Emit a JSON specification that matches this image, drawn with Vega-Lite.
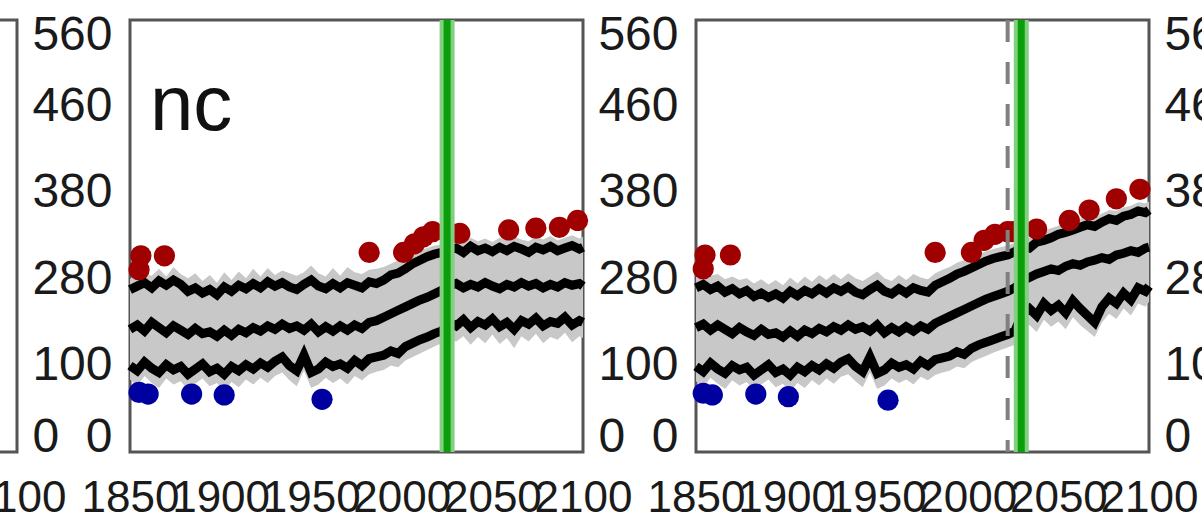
{
  "$schema": "https://vega.github.io/schema/vega-lite/v6.json",
  "background": "white",
  "autosize": {"type": "pad"},
  "padding": {"left": -487, "top": 9, "right": 0, "bottom": 0},
  "config": {
    "view": {"stroke": "#555555", "strokeWidth": 3},
    "axis": {"grid": false, "domain": false, "ticks": false}
  },
  "bounds": "flush",
  "spacing": 113,
  "datasets": {
    "B": [
      {"year":1850,"lo":84,"lower":100,"mid":142,"upper":188,"hi":200},
      {"year":1854,"lo":76,"lower":94,"mid":147,"upper":192,"hi":210},
      {"year":1858,"lo":88,"lower":104,"mid":140,"upper":196,"hi":206},
      {"year":1862,"lo":80,"lower":97,"mid":150,"upper":190,"hi":204},
      {"year":1866,"lo":74,"lower":92,"mid":144,"upper":198,"hi":212},
      {"year":1870,"lo":85,"lower":101,"mid":138,"upper":193,"hi":203},
      {"year":1874,"lo":78,"lower":95,"mid":146,"upper":199,"hi":214},
      {"year":1878,"lo":82,"lower":99,"mid":141,"upper":194,"hi":206},
      {"year":1882,"lo":72,"lower":90,"mid":136,"upper":186,"hi":201},
      {"year":1886,"lo":79,"lower":96,"mid":143,"upper":190,"hi":207},
      {"year":1890,"lo":85,"lower":102,"mid":137,"upper":184,"hi":198},
      {"year":1894,"lo":76,"lower":93,"mid":139,"upper":188,"hi":205},
      {"year":1898,"lo":80,"lower":97,"mid":134,"upper":182,"hi":196},
      {"year":1902,"lo":70,"lower":90,"mid":141,"upper":191,"hi":208},
      {"year":1906,"lo":81,"lower":99,"mid":135,"upper":186,"hi":199},
      {"year":1910,"lo":75,"lower":94,"mid":142,"upper":193,"hi":209},
      {"year":1914,"lo":84,"lower":101,"mid":138,"upper":189,"hi":201},
      {"year":1918,"lo":78,"lower":96,"mid":144,"upper":195,"hi":212},
      {"year":1922,"lo":86,"lower":103,"mid":140,"upper":190,"hi":203},
      {"year":1926,"lo":80,"lower":98,"mid":146,"upper":197,"hi":213},
      {"year":1930,"lo":88,"lower":105,"mid":142,"upper":192,"hi":205},
      {"year":1934,"lo":92,"lower":110,"mid":148,"upper":196,"hi":210},
      {"year":1938,"lo":83,"lower":100,"mid":143,"upper":191,"hi":207},
      {"year":1942,"lo":76,"lower":94,"mid":146,"upper":188,"hi":204},
      {"year":1946,"lo":94,"lower":112,"mid":141,"upper":194,"hi":208},
      {"year":1950,"lo":74,"lower":92,"mid":148,"upper":199,"hi":216},
      {"year":1954,"lo":78,"lower":96,"mid":139,"upper":192,"hi":207},
      {"year":1958,"lo":86,"lower":104,"mid":145,"upper":189,"hi":203},
      {"year":1962,"lo":80,"lower":99,"mid":140,"upper":195,"hi":213},
      {"year":1966,"lo":85,"lower":102,"mid":146,"upper":190,"hi":204},
      {"year":1970,"lo":78,"lower":97,"mid":141,"upper":196,"hi":214},
      {"year":1974,"lo":88,"lower":106,"mid":147,"upper":193,"hi":208},
      {"year":1978,"lo":83,"lower":100,"mid":143,"upper":190,"hi":206},
      {"year":1982,"lo":90,"lower":108,"mid":150,"upper":197,"hi":211},
      {"year":1986,"lo":93,"lower":110,"mid":152,"upper":195,"hi":212},
      {"year":1990,"lo":95,"lower":112,"mid":156,"upper":199,"hi":214},
      {"year":1994,"lo":100,"lower":117,"mid":160,"upper":205,"hi":218},
      {"year":1998,"lo":98,"lower":114,"mid":164,"upper":207,"hi":222},
      {"year":2002,"lo":106,"lower":122,"mid":168,"upper":212,"hi":225},
      {"year":2006,"lo":110,"lower":126,"mid":172,"upper":218,"hi":230},
      {"year":2010,"lo":114,"lower":130,"mid":176,"upper":222,"hi":233},
      {"year":2014,"lo":118,"lower":133,"mid":179,"upper":226,"hi":236},
      {"year":2018,"lo":122,"lower":137,"mid":183,"upper":229,"hi":239},
      {"year":2022,"lo":126,"lower":140,"mid":187,"upper":231,"hi":240},
      {"year":2026,"lo":130,"lower":150,"mid":192,"upper":234,"hi":244},
      {"year":2030,"lo":128,"lower":146,"mid":195,"upper":236,"hi":246},
      {"year":2034,"lo":134,"lower":153,"mid":190,"upper":231,"hi":243},
      {"year":2038,"lo":124,"lower":144,"mid":194,"upper":238,"hi":248},
      {"year":2042,"lo":133,"lower":151,"mid":191,"upper":233,"hi":244},
      {"year":2046,"lo":126,"lower":147,"mid":196,"upper":236,"hi":247},
      {"year":2050,"lo":136,"lower":154,"mid":192,"upper":232,"hi":243},
      {"year":2054,"lo":125,"lower":145,"mid":189,"upper":237,"hi":248},
      {"year":2058,"lo":132,"lower":150,"mid":194,"upper":233,"hi":245},
      {"year":2062,"lo":120,"lower":142,"mid":191,"upper":238,"hi":249},
      {"year":2066,"lo":134,"lower":152,"mid":196,"upper":235,"hi":246},
      {"year":2070,"lo":128,"lower":148,"mid":192,"upper":231,"hi":244},
      {"year":2074,"lo":137,"lower":155,"mid":195,"upper":237,"hi":249},
      {"year":2078,"lo":126,"lower":146,"mid":190,"upper":234,"hi":246},
      {"year":2082,"lo":133,"lower":151,"mid":194,"upper":238,"hi":250},
      {"year":2086,"lo":130,"lower":149,"mid":191,"upper":233,"hi":245},
      {"year":2090,"lo":138,"lower":156,"mid":196,"upper":236,"hi":248},
      {"year":2094,"lo":127,"lower":147,"mid":193,"upper":239,"hi":251},
      {"year":2098,"lo":134,"lower":152,"mid":195,"upper":235,"hi":247},
      {"year":2100,"lo":132,"lower":150,"mid":192,"upper":237,"hi":249}
    ],
    "C": [
      {"year":1850,"lo":82,"lower":99,"mid":144,"upper":190,"hi":203},
      {"year":1854,"lo":75,"lower":93,"mid":148,"upper":194,"hi":209},
      {"year":1858,"lo":86,"lower":103,"mid":141,"upper":188,"hi":204},
      {"year":1862,"lo":79,"lower":96,"mid":147,"upper":192,"hi":206},
      {"year":1866,"lo":73,"lower":91,"mid":142,"upper":185,"hi":200},
      {"year":1870,"lo":83,"lower":100,"mid":137,"upper":189,"hi":203},
      {"year":1874,"lo":77,"lower":95,"mid":144,"upper":183,"hi":199},
      {"year":1878,"lo":81,"lower":98,"mid":139,"upper":187,"hi":201},
      {"year":1882,"lo":71,"lower":89,"mid":135,"upper":180,"hi":195},
      {"year":1886,"lo":78,"lower":95,"mid":142,"upper":184,"hi":200},
      {"year":1890,"lo":84,"lower":101,"mid":136,"upper":179,"hi":194},
      {"year":1894,"lo":75,"lower":92,"mid":138,"upper":183,"hi":199},
      {"year":1898,"lo":79,"lower":96,"mid":133,"upper":178,"hi":193},
      {"year":1902,"lo":70,"lower":89,"mid":140,"upper":186,"hi":202},
      {"year":1906,"lo":80,"lower":98,"mid":134,"upper":181,"hi":195},
      {"year":1910,"lo":74,"lower":93,"mid":141,"upper":187,"hi":203},
      {"year":1914,"lo":83,"lower":100,"mid":137,"upper":183,"hi":197},
      {"year":1918,"lo":77,"lower":95,"mid":143,"upper":189,"hi":205},
      {"year":1922,"lo":85,"lower":102,"mid":139,"upper":184,"hi":199},
      {"year":1926,"lo":79,"lower":97,"mid":145,"upper":190,"hi":206},
      {"year":1930,"lo":87,"lower":104,"mid":141,"upper":186,"hi":200},
      {"year":1934,"lo":90,"lower":108,"mid":147,"upper":191,"hi":207},
      {"year":1938,"lo":82,"lower":99,"mid":142,"upper":185,"hi":201},
      {"year":1942,"lo":75,"lower":93,"mid":145,"upper":182,"hi":198},
      {"year":1946,"lo":92,"lower":110,"mid":140,"upper":188,"hi":203},
      {"year":1950,"lo":73,"lower":91,"mid":147,"upper":193,"hi":209},
      {"year":1954,"lo":77,"lower":95,"mid":138,"upper":186,"hi":201},
      {"year":1958,"lo":85,"lower":103,"mid":144,"upper":183,"hi":198},
      {"year":1962,"lo":80,"lower":98,"mid":139,"upper":189,"hi":205},
      {"year":1966,"lo":84,"lower":101,"mid":145,"upper":184,"hi":199},
      {"year":1970,"lo":78,"lower":96,"mid":140,"upper":190,"hi":206},
      {"year":1974,"lo":87,"lower":105,"mid":146,"upper":187,"hi":202},
      {"year":1978,"lo":83,"lower":100,"mid":142,"upper":185,"hi":200},
      {"year":1982,"lo":89,"lower":107,"mid":149,"upper":193,"hi":207},
      {"year":1986,"lo":92,"lower":109,"mid":153,"upper":197,"hi":211},
      {"year":1990,"lo":94,"lower":111,"mid":157,"upper":201,"hi":214},
      {"year":1994,"lo":99,"lower":116,"mid":161,"upper":206,"hi":219},
      {"year":1998,"lo":97,"lower":113,"mid":165,"upper":209,"hi":222},
      {"year":2002,"lo":104,"lower":120,"mid":169,"upper":213,"hi":226},
      {"year":2006,"lo":108,"lower":124,"mid":173,"upper":217,"hi":229},
      {"year":2010,"lo":111,"lower":127,"mid":177,"upper":221,"hi":232},
      {"year":2014,"lo":115,"lower":130,"mid":180,"upper":224,"hi":235},
      {"year":2018,"lo":118,"lower":133,"mid":183,"upper":226,"hi":237},
      {"year":2022,"lo":121,"lower":136,"mid":186,"upper":228,"hi":239},
      {"year":2026,"lo":124,"lower":140,"mid":190,"upper":232,"hi":242},
      {"year":2030,"lo":142,"lower":160,"mid":198,"upper":238,"hi":249},
      {"year":2034,"lo":147,"lower":166,"mid":202,"upper":236,"hi":248},
      {"year":2038,"lo":139,"lower":158,"mid":206,"upper":243,"hi":254},
      {"year":2042,"lo":153,"lower":172,"mid":209,"upper":245,"hi":256},
      {"year":2046,"lo":145,"lower":164,"mid":212,"upper":248,"hi":259},
      {"year":2050,"lo":151,"lower":170,"mid":210,"upper":252,"hi":262},
      {"year":2054,"lo":142,"lower":161,"mid":215,"upper":254,"hi":265},
      {"year":2058,"lo":156,"lower":175,"mid":218,"upper":257,"hi":267},
      {"year":2062,"lo":147,"lower":166,"mid":216,"upper":260,"hi":270},
      {"year":2066,"lo":140,"lower":158,"mid":220,"upper":263,"hi":272},
      {"year":2070,"lo":133,"lower":150,"mid":222,"upper":261,"hi":272},
      {"year":2074,"lo":150,"lower":168,"mid":225,"upper":266,"hi":276},
      {"year":2078,"lo":160,"lower":178,"mid":223,"upper":270,"hi":280},
      {"year":2082,"lo":154,"lower":172,"mid":228,"upper":268,"hi":279},
      {"year":2086,"lo":166,"lower":184,"mid":230,"upper":273,"hi":283},
      {"year":2090,"lo":158,"lower":176,"mid":233,"upper":275,"hi":285},
      {"year":2094,"lo":172,"lower":190,"mid":231,"upper":279,"hi":289},
      {"year":2098,"lo":168,"lower":186,"mid":236,"upper":277,"hi":288},
      {"year":2100,"lo":174,"lower":192,"mid":237,"upper":280,"hi":290}
    ],
    "dB": [
      {"year":1855,"v":211,"kind":"hi"},{"year":1856,"v":227,"kind":"hi"},{"year":1869,"v":227,"kind":"hi"},
      {"year":1982,"v":231,"kind":"hi"},{"year":2001,"v":231,"kind":"hi"},{"year":2007,"v":241,"kind":"hi"},
      {"year":2012,"v":249,"kind":"hi"},{"year":2017,"v":255,"kind":"hi"},{"year":2032,"v":253,"kind":"hi"},
      {"year":2059,"v":257,"kind":"hi"},{"year":2074,"v":259,"kind":"hi"},{"year":2087,"v":260,"kind":"hi"},
      {"year":2097,"v":268,"kind":"hi"},
      {"year":1855,"v":69,"kind":"lo"},{"year":1860,"v":67,"kind":"lo"},{"year":1884,"v":67,"kind":"lo"},
      {"year":1902,"v":66,"kind":"lo"},{"year":1956,"v":61,"kind":"lo"}
    ],
    "dC": [
      {"year":1854,"v":212,"kind":"hi"},{"year":1855,"v":228,"kind":"hi"},{"year":1869,"v":228,"kind":"hi"},
      {"year":1982,"v":231,"kind":"hi"},{"year":2002,"v":231,"kind":"hi"},{"year":2009,"v":245,"kind":"hi"},
      {"year":2015,"v":252,"kind":"hi"},{"year":2022,"v":255,"kind":"hi"},{"year":2025,"v":255,"kind":"hi"},
      {"year":2038,"v":258,"kind":"hi"},{"year":2056,"v":268,"kind":"hi"},{"year":2067,"v":280,"kind":"hi"},
      {"year":2082,"v":293,"kind":"hi"},{"year":2095,"v":304,"kind":"hi"},
      {"year":1854,"v":68,"kind":"lo"},{"year":1859,"v":66,"kind":"lo"},{"year":1883,"v":67,"kind":"lo"},
      {"year":1901,"v":64,"kind":"lo"},{"year":1956,"v":60,"kind":"lo"}
    ],
    "gB": [{"year":2025}],
    "gC": [{"year":2029.5}],
    "dashC": [{"year":2022}],
    "tB": [{"year":1861,"v":373,"t":"nc"}],
    "edge": [{"year":2100,"v":0}]
  },
  "hconcat": [
    {
      "width": 453, "height": 432,
      "data": {"name": "edge"},
      "mark": {"type": "point", "opacity": 0},
      "encoding": {
        "x": {"field": "year", "type": "quantitative", "title": null, "scale": {"domain": [1850, 2100]},
              "axis": {"values": [1850,1900,1950,2000,2050,2100], "format": "d", "labelFontSize": 44, "labelFont": "Liberation Sans", "labelColor": "#1a1a1a", "labelPadding": 24, "labelFlush": false, "labelOverlap": false}},
        "y": {"field": "v", "type": "quantitative", "title": null, "scale": {"domain": [0, 500]}, "axis": null}
      }
    },
    {
      "width": 453, "height": 432,
      "encoding": {
        "x": {"field": "year", "type": "quantitative", "title": null, "scale": {"domain": [1850, 2100]},
              "axis": {"values": [1850,1900,1950,2000,2050,2100], "format": "d", "labelFontSize": 44, "labelFont": "Liberation Sans", "labelColor": "#1a1a1a", "labelPadding": 24, "labelFlush": false, "labelOverlap": false}}
      },
      "layer": [
        {"data": {"name": "B"}, "mark": {"type": "area", "color": "#c8c8c8"},
         "encoding": {"y": {"field": "lo", "type": "quantitative", "title": null, "scale": {"domain": [0, 500]},
           "axis": {"values": [0,100,200,300,400,500], "labelExpr": "datum.value == 500 ? '560' : datum.value == 400 ? '460' : datum.value == 300 ? '380' : datum.value == 200 ? '280' : datum.value == 100 ? '100' : '0\u00a0\u00a00'", "labelFontSize": 48, "labelFont": "Liberation Sans", "labelColor": "#1a1a1a", "labelPadding": 18, "labelFlush": true, "labelFlushOffset": 9, "labelOverlap": false}},
           "y2": {"field": "hi"}}},
        {"data": {"name": "B"}, "mark": {"type": "line", "color": "#000000", "strokeWidth": 9},
         "encoding": {"y": {"field": "lower", "type": "quantitative", "title": null, "scale": {"domain": [0, 500]},
           "axis": {"values": [0,100,200,300,400,500], "labelExpr": "datum.value == 500 ? '560' : datum.value == 400 ? '460' : datum.value == 300 ? '380' : datum.value == 200 ? '280' : datum.value == 100 ? '100' : '0\u00a0\u00a00'", "labelFontSize": 48, "labelFont": "Liberation Sans", "labelColor": "#1a1a1a", "labelPadding": 18, "labelFlush": true, "labelFlushOffset": 9, "labelOverlap": false}}}},
        {"data": {"name": "B"}, "mark": {"type": "line", "color": "#000000", "strokeWidth": 9},
         "encoding": {"y": {"field": "mid", "type": "quantitative", "title": null, "scale": {"domain": [0, 500]},
           "axis": {"values": [0,100,200,300,400,500], "labelExpr": "datum.value == 500 ? '560' : datum.value == 400 ? '460' : datum.value == 300 ? '380' : datum.value == 200 ? '280' : datum.value == 100 ? '100' : '0\u00a0\u00a00'", "labelFontSize": 48, "labelFont": "Liberation Sans", "labelColor": "#1a1a1a", "labelPadding": 18, "labelFlush": true, "labelFlushOffset": 9, "labelOverlap": false}}}},
        {"data": {"name": "B"}, "mark": {"type": "line", "color": "#000000", "strokeWidth": 9},
         "encoding": {"y": {"field": "upper", "type": "quantitative", "title": null, "scale": {"domain": [0, 500]},
           "axis": {"values": [0,100,200,300,400,500], "labelExpr": "datum.value == 500 ? '560' : datum.value == 400 ? '460' : datum.value == 300 ? '380' : datum.value == 200 ? '280' : datum.value == 100 ? '100' : '0\u00a0\u00a00'", "labelFontSize": 48, "labelFont": "Liberation Sans", "labelColor": "#1a1a1a", "labelPadding": 18, "labelFlush": true, "labelFlushOffset": 9, "labelOverlap": false}}}},
        {"data": {"name": "dB"}, "mark": {"type": "circle", "size": 450, "opacity": 1},
         "encoding": {"y": {"field": "v", "type": "quantitative", "title": null, "scale": {"domain": [0, 500]},
           "axis": {"values": [0,100,200,300,400,500], "labelExpr": "datum.value == 500 ? '560' : datum.value == 400 ? '460' : datum.value == 300 ? '380' : datum.value == 200 ? '280' : datum.value == 100 ? '100' : '0\u00a0\u00a00'", "labelFontSize": 48, "labelFont": "Liberation Sans", "labelColor": "#1a1a1a", "labelPadding": 18, "labelFlush": true, "labelFlushOffset": 9, "labelOverlap": false}},
           "color": {"field": "kind", "type": "nominal", "scale": {"domain": ["hi", "lo"], "range": ["#a00000", "#0000a0"]}, "legend": null}}},
        {"data": {"name": "tB"}, "mark": {"type": "text", "align": "left", "baseline": "alphabetic", "fontSize": 78, "font": "Liberation Sans", "color": "#111111"},
         "encoding": {"y": {"field": "v", "type": "quantitative", "title": null, "scale": {"domain": [0, 500]},
           "axis": {"values": [0,100,200,300,400,500], "labelExpr": "datum.value == 500 ? '560' : datum.value == 400 ? '460' : datum.value == 300 ? '380' : datum.value == 200 ? '280' : datum.value == 100 ? '100' : '0\u00a0\u00a00'", "labelFontSize": 48, "labelFont": "Liberation Sans", "labelColor": "#1a1a1a", "labelPadding": 18, "labelFlush": true, "labelFlushOffset": 9, "labelOverlap": false}},
           "text": {"field": "t"}}},
        {"data": {"name": "gB"}, "mark": {"type": "rule", "color": "#80d080", "strokeWidth": 15}, "encoding": {}},
        {"data": {"name": "gB"}, "mark": {"type": "rule", "color": "#0a9e0a", "strokeWidth": 7}, "encoding": {}}
      ]
    },
    {
      "width": 453, "height": 432,
      "encoding": {
        "x": {"field": "year", "type": "quantitative", "title": null, "scale": {"domain": [1850, 2100]},
              "axis": {"values": [1850,1900,1950,2000,2050,2100], "format": "d", "labelFontSize": 44, "labelFont": "Liberation Sans", "labelColor": "#1a1a1a", "labelPadding": 24, "labelFlush": false, "labelOverlap": false}}
      },
      "layer": [
        {"data": {"name": "C"}, "mark": {"type": "area", "color": "#c8c8c8"},
         "encoding": {"y": {"field": "lo", "type": "quantitative", "title": null, "scale": {"domain": [0, 500]},
           "axis": {"values": [0,100,200,300,400,500], "labelExpr": "datum.value == 500 ? '560' : datum.value == 400 ? '460' : datum.value == 300 ? '380' : datum.value == 200 ? '280' : datum.value == 100 ? '100' : '0\u00a0\u00a00'", "labelFontSize": 48, "labelFont": "Liberation Sans", "labelColor": "#1a1a1a", "labelPadding": 18, "labelFlush": true, "labelFlushOffset": 9, "labelOverlap": false}},
           "y2": {"field": "hi"}}},
        {"data": {"name": "C"}, "mark": {"type": "line", "color": "#000000", "strokeWidth": 9},
         "encoding": {"y": {"field": "lower", "type": "quantitative", "title": null, "scale": {"domain": [0, 500]},
           "axis": {"values": [0,100,200,300,400,500], "labelExpr": "datum.value == 500 ? '560' : datum.value == 400 ? '460' : datum.value == 300 ? '380' : datum.value == 200 ? '280' : datum.value == 100 ? '100' : '0\u00a0\u00a00'", "labelFontSize": 48, "labelFont": "Liberation Sans", "labelColor": "#1a1a1a", "labelPadding": 18, "labelFlush": true, "labelFlushOffset": 9, "labelOverlap": false}}}},
        {"data": {"name": "C"}, "mark": {"type": "line", "color": "#000000", "strokeWidth": 9},
         "encoding": {"y": {"field": "mid", "type": "quantitative", "title": null, "scale": {"domain": [0, 500]},
           "axis": {"values": [0,100,200,300,400,500], "labelExpr": "datum.value == 500 ? '560' : datum.value == 400 ? '460' : datum.value == 300 ? '380' : datum.value == 200 ? '280' : datum.value == 100 ? '100' : '0\u00a0\u00a00'", "labelFontSize": 48, "labelFont": "Liberation Sans", "labelColor": "#1a1a1a", "labelPadding": 18, "labelFlush": true, "labelFlushOffset": 9, "labelOverlap": false}}}},
        {"data": {"name": "C"}, "mark": {"type": "line", "color": "#000000", "strokeWidth": 9},
         "encoding": {"y": {"field": "upper", "type": "quantitative", "title": null, "scale": {"domain": [0, 500]},
           "axis": {"values": [0,100,200,300,400,500], "labelExpr": "datum.value == 500 ? '560' : datum.value == 400 ? '460' : datum.value == 300 ? '380' : datum.value == 200 ? '280' : datum.value == 100 ? '100' : '0\u00a0\u00a00'", "labelFontSize": 48, "labelFont": "Liberation Sans", "labelColor": "#1a1a1a", "labelPadding": 18, "labelFlush": true, "labelFlushOffset": 9, "labelOverlap": false}}}},
        {"data": {"name": "dC"}, "mark": {"type": "circle", "size": 450, "opacity": 1},
         "encoding": {"y": {"field": "v", "type": "quantitative", "title": null, "scale": {"domain": [0, 500]},
           "axis": {"values": [0,100,200,300,400,500], "labelExpr": "datum.value == 500 ? '560' : datum.value == 400 ? '460' : datum.value == 300 ? '380' : datum.value == 200 ? '280' : datum.value == 100 ? '100' : '0\u00a0\u00a00'", "labelFontSize": 48, "labelFont": "Liberation Sans", "labelColor": "#1a1a1a", "labelPadding": 18, "labelFlush": true, "labelFlushOffset": 9, "labelOverlap": false}},
           "color": {"field": "kind", "type": "nominal", "scale": {"domain": ["hi", "lo"], "range": ["#a00000", "#0000a0"]}, "legend": null}}},
        {"data": {"name": "dashC"}, "mark": {"type": "rule", "color": "#808080", "strokeWidth": 4, "strokeDash": [22, 20]}, "encoding": {}},
        {"data": {"name": "gC"}, "mark": {"type": "rule", "color": "#80d080", "strokeWidth": 15}, "encoding": {}},
        {"data": {"name": "gC"}, "mark": {"type": "rule", "color": "#0a9e0a", "strokeWidth": 7}, "encoding": {}}
      ]
    },
    {
      "width": 453, "height": 432,
      "data": {"name": "edge"},
      "mark": {"type": "point", "opacity": 0},
      "encoding": {
        "x": {"field": "year", "type": "quantitative", "title": null, "scale": {"domain": [1850, 2100]},
              "axis": {"values": [1850,1900,1950,2000,2050,2100], "format": "d", "labelFontSize": 44, "labelFont": "Liberation Sans", "labelColor": "#1a1a1a", "labelPadding": 24, "labelFlush": false, "labelOverlap": false}},
        "y": {"field": "v", "type": "quantitative", "title": null, "scale": {"domain": [0, 500]},
              "axis": {"values": [0,100,200,300,400,500], "labelExpr": "datum.value == 500 ? '560' : datum.value == 400 ? '460' : datum.value == 300 ? '380' : datum.value == 200 ? '280' : datum.value == 100 ? '100' : '0\u00a0\u00a00'", "labelFontSize": 48, "labelFont": "Liberation Sans", "labelColor": "#1a1a1a", "labelPadding": 18, "labelFlush": true, "labelFlushOffset": 9, "labelOverlap": false}}
      }
    }
  ]
}
